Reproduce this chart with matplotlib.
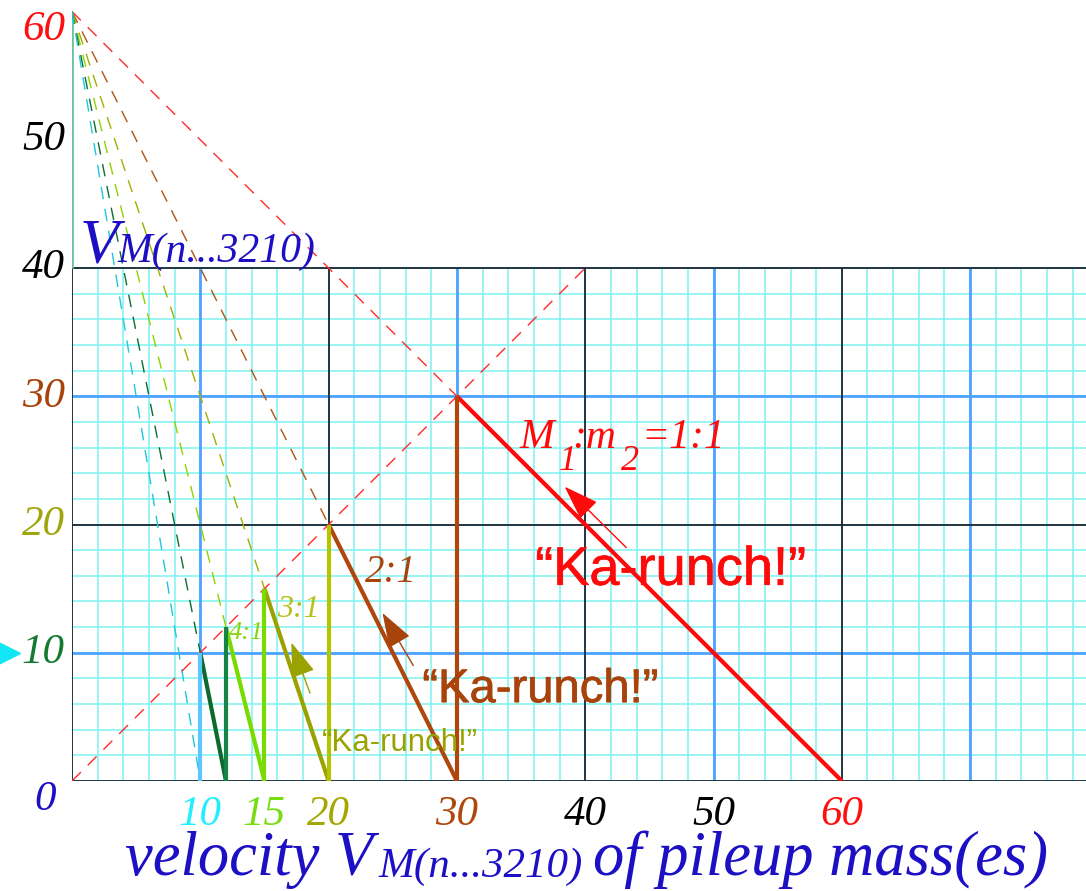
import numpy as np
import matplotlib.pyplot as plt
import matplotlib.patheffects as pe
from matplotlib.patches import FancyArrowPatch

# pileup velocities: each bounce apex sits on the 45 degree line
top_v = 60
apex_v = [30, 20, 15, 12, 10]
landing_v = [60, 30, 20, 15, 12]
fall_colors = ['#ff0a0a', '#b0460c', '#9aa200', '#78dc00', '#0c6a2c']
post_colors = ['#b0460c', '#b4c400', '#78dc00', '#148544', '#5cc6ff']

# dashed guides from the top velocity
guide_x = [30, 20, 15, 12, 10, 10]
guide_y = [30, 20, 15, 12, 10, 0]
guide_colors = ['#ff2a2a', '#b0520f', '#a4ad00', '#8ad400', '#0f6a30', '#1ec8d8']
diag_end = 40

# mass ratio labels
ratio_text = ['2:1', '3:1', '4:1']
ratio_x = [22.8, 15.95, 12.2]
ratio_y = [15.5, 12.8, 11.05]
ratio_size = [28, 23, 19]
ratio_colors = ['#a8430c', '#b5c21a', '#86d40e']

# arrows parallel to the collision lines
arrow_tail = [(43.2, 18.2), (26.6, 9.0), (18.55, 6.85)]
arrow_tip = [(38.4, 22.95), (24.2, 13.1), (17.1, 10.8)]
arrow_colors = ['#ff0a0a', '#a8430c', '#9aa200']

ytick_vals = [60, 50, 40, 30, 20, 10]
ytick_pos = [58.6, 50, 40, 30, 20, 10]
ytick_colors = ['#ff1010', '#000000', '#000000', '#a8430c', '#a0a50a', '#147a30']
xtick_vals = [10, 15, 20, 30, 40, 50, 60]
xtick_colors = ['#22eeff', '#77dd11', '#a3a800', '#b0480c', '#000000', '#000000', '#ff1010']

blue_txt = '#1c0fc4'
serif = 'Liberation Serif'

fig = plt.figure(figsize=(10.86, 8.91), dpi=100)
ax = fig.add_axes([72 / 1086, 110 / 891, 1014 / 1086, 781 / 891])
ax.set_xlim(0, 79.03)
ax.set_ylim(0, 60.9)
ax.axis('off')

# graph paper
fine = np.arange(0, 81, 2)
ax.vlines(fine, 0, 40, color='#7ff3f3', lw=1.1, zorder=0)
ax.hlines(fine[fine <= 40], 0, 80, color='#7ff3f3', lw=1.1, zorder=0)
ax.vlines([10, 30, 50, 70], 0, 40, color='#4da3ff', lw=2, zorder=1)
ax.hlines([10, 30], 0, 80, color='#4da3ff', lw=2, zorder=1)
ax.vlines([0, 20, 40, 60], 0, 40, color='#1a2633', lw=1.3, zorder=1)
ax.hlines([0, 20, 40], 0, 80, color='#1a2633', lw=1.3, zorder=1)
ax.vlines(0, 40, top_v, color='#6fc29c', lw=2, zorder=1)

# dashed guides
for gx, gy, c in zip(guide_x, guide_y, guide_colors):
    ax.plot([0, gx], [top_v, gy], color=c, lw=1, dashes=(9, 7), zorder=2)
ax.plot([0, diag_end], [0, diag_end], color='#ff2a2a', lw=1, dashes=(9, 7), zorder=2)

# sawtooth of collisions
for a, l, c in zip(apex_v, landing_v, fall_colors):
    ax.plot([a, l], [a, 0], color=c, lw=3, zorder=3, solid_capstyle='butt')
for a, c in zip(apex_v, post_colors):
    ax.plot([a, a], [0, a], color=c, lw=3, zorder=3, solid_capstyle='butt')

for t0, t1, c in zip(arrow_tail, arrow_tip, arrow_colors):
    ax.add_patch(FancyArrowPatch(t0, t1, arrowstyle='-|>,head_length=1.1,head_width=0.38',
                                 mutation_scale=20, color=c, lw=1, shrinkA=0, shrinkB=0, zorder=4))

# labels on the chart
tkw = dict(family=serif, style='italic', ha='left', va='baseline', zorder=5)
for s, x, y, fs, c in zip(ratio_text, ratio_x, ratio_y, ratio_size, ratio_colors):
    ax.text(x, y, s, fontsize=fs, color=c, **tkw)

red = '#ff0a0a'
ax.text(34.9, 25.97, 'M', fontsize=30, color=red, **tkw)
ax.text(37.9, 24.25, '1', fontsize=26, color=red, **tkw)
ax.text(39.0, 25.97, ':m', fontsize=30, color=red, **tkw)
ax.text(42.8, 24.25, '2', fontsize=26, color=red, **tkw)
ax.text(44.4, 25.97, '=1:1', fontsize=30, color=red, **tkw)

kw = dict(family='Liberation Sans', ha='left', va='baseline', zorder=5)
ax.text(36.1, 15.3, '\u201cKa-runch!\u201d', fontsize=39, color=red,
        path_effects=[pe.withStroke(linewidth=0.5, foreground=red)], **kw)
ax.text(27.3, 6.15, '\u201cKa-runch!\u201d', fontsize=34, color='#a8430c',
        path_effects=[pe.withStroke(linewidth=0.5, foreground='#a8430c')], **kw)
ax.text(19.5, 2.35, '\u201cKa-runch!\u201d', fontsize=22.5, color='#9aa200', **kw)

ax.text(0.62, 40.45, 'V', fontsize=46, color=blue_txt, **tkw)
ax.text(3.55, 40.45, 'M(n...3210)', fontsize=30, color=blue_txt, **tkw)

# tick labels
for v, p, c in zip(ytick_vals, ytick_pos, ytick_colors):
    ax.text(-0.55, p, str(v), fontsize=31, color=c, family=serif, style='italic',
            ha='right', va='center', clip_on=False)
for v, c in zip(xtick_vals, xtick_colors):
    ax.text(v, -2.6, str(v), fontsize=31, color=c, family=serif, style='italic',
            ha='center', va='center', clip_on=False)
ax.text(-2.1, -1.5, '0', fontsize=31, color=blue_txt, family=serif, style='italic',
        ha='center', va='center', clip_on=False)
ax.plot([-5.0], [10], marker='>', ms=17, color='#11e6f5', clip_on=False, zorder=5)

# axis title along the bottom
ax.text(4.13, -7.33, 'velocity V', fontsize=45, color=blue_txt, clip_on=False, **tkw)
ax.text(23.85, -7.45, 'M(n...3210)', fontsize=31, color=blue_txt, clip_on=False, **tkw)
ax.text(40.6, -7.33, 'of pileup mass(es)', fontsize=45, color=blue_txt, clip_on=False, **tkw)

fig.savefig('out.png', dpi=100)
